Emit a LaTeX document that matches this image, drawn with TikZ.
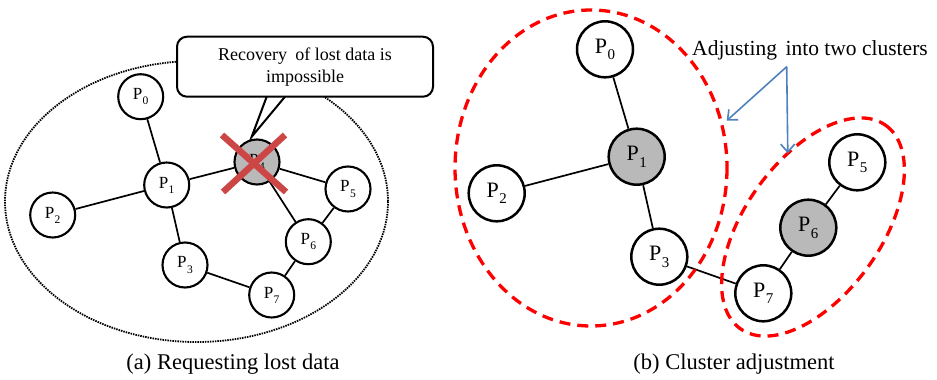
\documentclass[tikz,border=0pt]{standalone}
\usepackage{fontspec}
\setmainfont{Liberation Serif}
\usepackage{graphicx}
\usetikzlibrary{arrows.meta}
\definecolor{crossred}{RGB}{205,70,70}
\definecolor{arrowblue}{RGB}{79,129,189}
\definecolor{nodegray}{RGB}{185,185,185}
% process label P with a lowered, reduced index
\newcommand\pname[1]{P\kern0.02em\raisebox{-0.3em}{\scalebox{0.68}{#1}}}
\begin{document}
\begin{tikzpicture}[x=1pt,y=-1pt,
  smallnode/.style={circle, draw, line width=2.1pt, fill=white, minimum size=45pt,
    inner sep=0pt, font=\fontsize{17}{20}\selectfont},
  bignode/.style={circle, draw, line width=2.5pt, fill=white, minimum size=56pt,
    inner sep=0pt, font=\fontsize{22}{26}\selectfont},
  lostnode/.style={fill=nodegray},
  link/.style={line width=1.7pt},
  cluster/.style={red, line width=3.3pt, dash pattern=on 11pt off 7pt},
  pointer/.style={arrowblue, line width=1.6pt, -{Straight Barb[length=8pt,width=14pt]}},
  caption/.style={anchor=base, font=\fontsize{22.5}{27}\selectfont}]
\useasboundingbox (0,0) rectangle (937,380);

% ---------- (a) requesting lost data ----------
\draw[line width=1.8pt, dash pattern=on 1.5pt off 1pt] (196.5,201.5) ellipse [x radius=191.5, y radius=140.5];

\node[smallnode] (a0) at (140.7,96.7) {\pname{0}};
\node[smallnode] (a1) at (166.7,185) {\pname{1}};
\node[smallnode] (a2) at (52.7,215) {\pname{2}};
\node[smallnode] (a3) at (185,265) {\pname{3}};
\node[smallnode, lostnode] (a4) at (257,162) {\pname{4}};
\node[smallnode] (a5) at (348,189) {\pname{5}};
\node[smallnode] (a6) at (308.3,241.7) {\pname{6}};
\node[smallnode] (a7) at (271.7,295) {\pname{7}};

\foreach \u/\v in {a0/a1, a1/a2, a1/a4, a1/a3, a3/a7, a7/a6, a6/a4, a6/a5, a4/a5}
  \draw[link] (\u) -- (\v);

% speech bubble
\node[draw, line width=2pt, rounded corners=10pt, fill=white, minimum width=256pt,
  minimum height=60pt, align=center, font=\fontsize{18}{22}\selectfont] (bubble)
  at (305,66.7) {Recovery\hspace{0.2em} of lost data is\\impossible};
\coordinate (tipA) at (266.7,96.7);
\coordinate (tipB) at (285,96.7);
\coordinate (tip) at (251.7,136.7);
\fill[white] ([yshift=-1.3pt]tipA) -- (tip) -- ([yshift=-1.3pt]tipB) -- cycle;
\draw[line width=2pt] (tipA) -- (tip) -- (tipB);

% failed node marker
\draw[crossred, line width=6.5pt] (222,135) -- (286,192);
\draw[crossred, line width=6.5pt] (285,135) -- (223,192);

\node[caption] (capa) at (233,369) {(a) Requesting lost data};

% ---------- (b) cluster adjustment ----------
\node[bignode] (b0) at (605,49.3) {\pname{0}};
\node[bignode, lostnode] (b1) at (636.7,156.7) {\pname{1}};
\node[bignode] (b2) at (496.7,193.3) {\pname{2}};
\node[bignode] (b3) at (659.3,256.7) {\pname{3}};
\node[bignode] (b7) at (763.3,293.3) {\pname{7}};
\node[bignode, lostnode] (b6) at (808.3,227.7) {\pname{6}};
\node[bignode] (b5) at (857.3,162.3) {\pname{5}};
\foreach \u/\v in {b0/b1, b1/b2, b1/b3, b3/b7, b7/b6, b6/b5}
  \draw[link] (\u) -- (\v);

\draw[cluster] (591,168) ellipse [x radius=136, y radius=158];
\draw[cluster, rotate around={54.4:(813,227)}] (813,227) ellipse [x radius=125, y radius=68];

\node[anchor=base, font=\fontsize{21.5}{26}\selectfont] (adjust) at (810,55)
  {Adjusting\hspace{0.15em} into two clusters};
\coordinate (fork) at (786.7,66.7);
\coordinate (leftend) at (726.7,120.7);
\coordinate (rightend) at (787.8,153.3);
\draw[pointer] (fork) -- (leftend);
\draw[pointer] (fork) -- (rightend);

\node[caption] (capb) at (734,369) {(b) Cluster adjustment};
\end{tikzpicture}
\end{document}
